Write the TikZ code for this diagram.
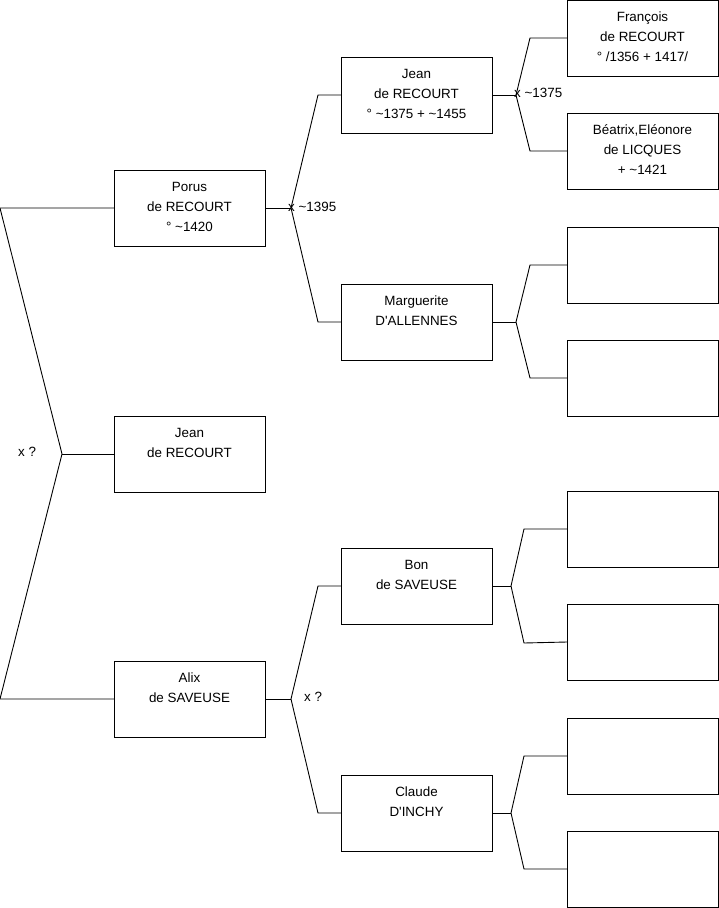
\documentclass[tikz,border=0pt]{standalone}
\usepackage{fontspec}
\setmainfont{Liberation Sans}
\newcommand{\ptext}[1]{\parbox[t][76pt][t]{151pt}{\centering\fontsize{13.4pt}{20pt}\selectfont\rule{0pt}{21pt}#1}}
\tikzset{
  person/.style={draw=black, line width=0.9pt, anchor=north west, inner sep=0pt, outer sep=0pt},
  link/.style={draw=black, line width=0.9pt},
  lbl/.style={anchor=west, inner sep=0pt, font=\fontsize{13.4pt}{16pt}\selectfont}
}
\begin{document}
\begin{tikzpicture}[x=1pt,y=-1pt]
\useasboundingbox (0,0) rectangle (719,908);
% generation 1
\node[person] (porus) at (114,170) {\ptext{Porus\\de RECOURT\\° \textasciitilde1420}};
\node[person] (jeanA) at (114,416) {\ptext{Jean\\de RECOURT}};
\node[person] (alix) at (114,661) {\ptext{Alix\\de SAVEUSE}};
% generation 2
\node[person] (jeanB) at (341,57) {\ptext{Jean\\de RECOURT\\° \textasciitilde1375 + \textasciitilde1455}};
\node[person] (marg) at (341,284) {\ptext{Marguerite\\D\textquotesingle ALLENNES}};
\node[person] (bon) at (341,548) {\ptext{Bon\\de SAVEUSE}};
\node[person] (claude) at (341,775) {\ptext{Claude\\D\textquotesingle INCHY}};
% generation 3
\node[person] (fran) at (567,0) {\ptext{François\\de RECOURT\\° /1356 + 1417/}};
\node[person] (beat) at (567,113) {\ptext{Béatrix,Eléonore\\de LICQUES\\+ \textasciitilde1421}};
\node[person] (e1) at (567,227) {\ptext{}};
\node[person] (e2) at (567,340) {\ptext{}};
\node[person] (e3) at (567,491) {\ptext{}};
\node[person] (e4) at (567,604) {\ptext{}};
\node[person] (e5) at (567,718) {\ptext{}};
\node[person] (e6) at (567,831) {\ptext{}};
% coordinates
\coordinate (r0) at (0,208);
\coordinate (r1) at (62,454);
\coordinate (r2) at (0,699);
\coordinate (fp) at (291,208);
\coordinate (fpu) at (318,95);
\coordinate (fpd) at (318,322);
\coordinate (fj) at (516,95);
\coordinate (fju) at (530,38);
\coordinate (fjd) at (530,151);
\coordinate (fm) at (516,322);
\coordinate (fmu) at (530,265);
\coordinate (fmd) at (530,378);
\coordinate (fa) at (291,699);
\coordinate (fau) at (318,586);
\coordinate (fad) at (318,813);
\coordinate (fb) at (511,586);
\coordinate (fbu) at (524,529);
\coordinate (fbd) at (524,643);
\coordinate (fc) at (511,813);
\coordinate (fcu) at (524,756);
\coordinate (fcd) at (524,869);
% connectors
\draw[link] (porus.west) -- (r0) -- (r1) -- (r2) -- (alix.west);
\draw[link] (r1) -- (jeanA.west);
\draw[link] (porus.east) -- (fp);
\draw[link] (jeanB.west) -- (fpu) -- (fp) -- (fpd) -- (marg.west);
\draw[link] (jeanB.east) -- (fj);
\draw[link] (fran.west) -- (fju) -- (fj) -- (fjd) -- (beat.west);
\draw[link] (marg.east) -- (fm);
\draw[link] (e1.west) -- (fmu) -- (fm) -- (fmd) -- (e2.west);
\draw[link] (alix.east) -- (fa);
\draw[link] (bon.west) -- (fau) -- (fa) -- (fad) -- (claude.west);
\draw[link] (bon.east) -- (fb);
\draw[link] (e3.west) -- (fbu) -- (fb) -- (fbd) -- (e4.west);
\draw[link] (claude.east) -- (fc);
\draw[link] (e5.west) -- (fcu) -- (fc) -- (fcd) -- (e6.west);
% labels
\node[lbl] (l1) at (288,207) {x \textasciitilde1395};
\node[lbl] (l2) at (514,93) {x \textasciitilde1375};
\node[lbl] (l3) at (18,452) {x ?};
\node[lbl] (l4) at (304,697) {x ?};
\end{tikzpicture}
\end{document}
